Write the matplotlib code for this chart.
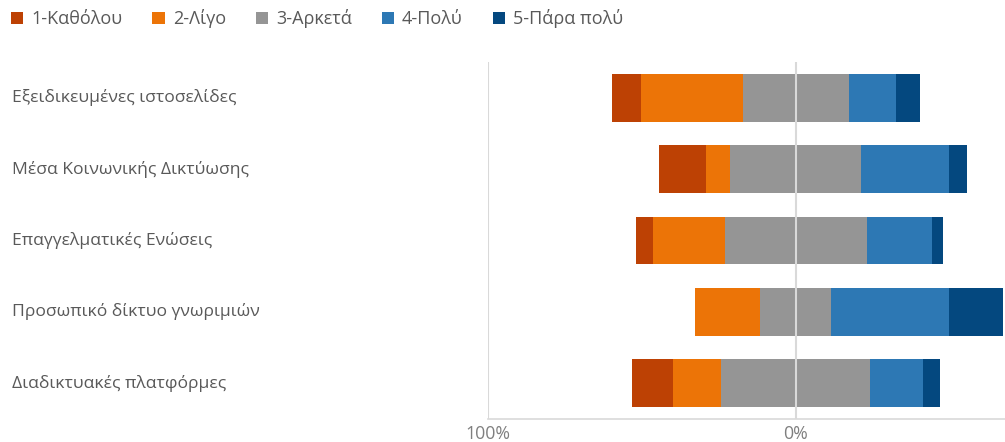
import numpy as np
import matplotlib
matplotlib.use("Agg")
import matplotlib.pyplot as plt
from matplotlib.patches import Patch
from matplotlib.transforms import blended_transform_factory

plt.rcParams['font.family'] = ['Open Sans', 'DejaVu Sans']

categories = [
    "Εξειδικευμένες ιστοσελίδες",
    "Μέσα Κοινωνικής Δικτύωσης",
    "Επαγγελματικές Ενώσεις",
    "Προσωπικό δίκτυο γνωριμιών",
    "Διαδικτυακές πλατφόρμες",
]
series_names = ["1-Καθόλου", "2-Λίγο", "3-Αρκετά", "4-Πολύ", "5-Πάρα πολύ"]
katholou = [9.4, 15.2, 5.6, 0.0, 13.4]
ligo = [33.0, 7.8, 23.3, 21.2, 15.5]
arketa = [34.4, 42.5, 46.2, 23.0, 48.4]
poly = [15.4, 28.7, 21.2, 38.4, 17.3]
para_poly = [7.8, 5.7, 3.7, 17.3, 5.4]
tick_values = [-100, 0]
tick_labels = ["100%", "0%"]

colors = ["#BD4104", "#EC7407", "#959595", "#2D78B4", "#04487F"]
text_gray = "#595959"
grid_gray = "#D9D9D9"

fig = plt.figure(figsize=(10.05, 4.42), dpi=100)
ax = fig.add_axes([487.8 / 1005, 1 - 419 / 442, 1 - 487.8 / 1005, (419 - 62) / 442])

series = [np.array(s, dtype=float) for s in (katholou, ligo, arketa, poly, para_poly)]
y = np.arange(len(categories))
left = -(series[0] + series[1] + series[2] / 2)
for vals, col in zip(series, colors):
    ax.barh(y, vals, left=left, height=0.67, color=col, edgecolor="none", zorder=2)
    left = left + vals

ax.set_xlim(-100, 68)
ax.set_ylim(len(categories) - 0.5, -0.5)
ax.set_xticks(tick_values)
ax.set_xticklabels(tick_labels, color="#7F7F7F", fontsize=12.8)
ax.tick_params(axis="x", length=0, pad=4)
ax.set_yticks([])
for sp in ["top", "right", "left"]:
    ax.spines[sp].set_visible(False)
ax.spines["bottom"].set_color(grid_gray)
ax.spines["bottom"].set_linewidth(1.2)
for v in tick_values:
    ax.axvline(v, color=grid_gray, linewidth=1.5, zorder=3 if v == 0 else 1)

trans = blended_transform_factory(fig.transFigure, ax.transData)
for yi, name in zip(y, categories):
    ax.text(12 / 1005, yi, name, transform=trans, ha="left", va="center",
            fontsize=12.6, color=text_gray)

handles = [Patch(facecolor=c, edgecolor="none") for c in colors]
fig.legend(handles, series_names, loc="center left", bbox_to_anchor=(11 / 1005, 1 - 19 / 442),
           ncol=5, frameon=False, fontsize=13, labelcolor=text_gray,
           handlelength=0.68, handleheight=0.68, handletextpad=0.45,
           columnspacing=1.65, borderaxespad=0, borderpad=0)

fig.savefig("out.png", dpi=100)
